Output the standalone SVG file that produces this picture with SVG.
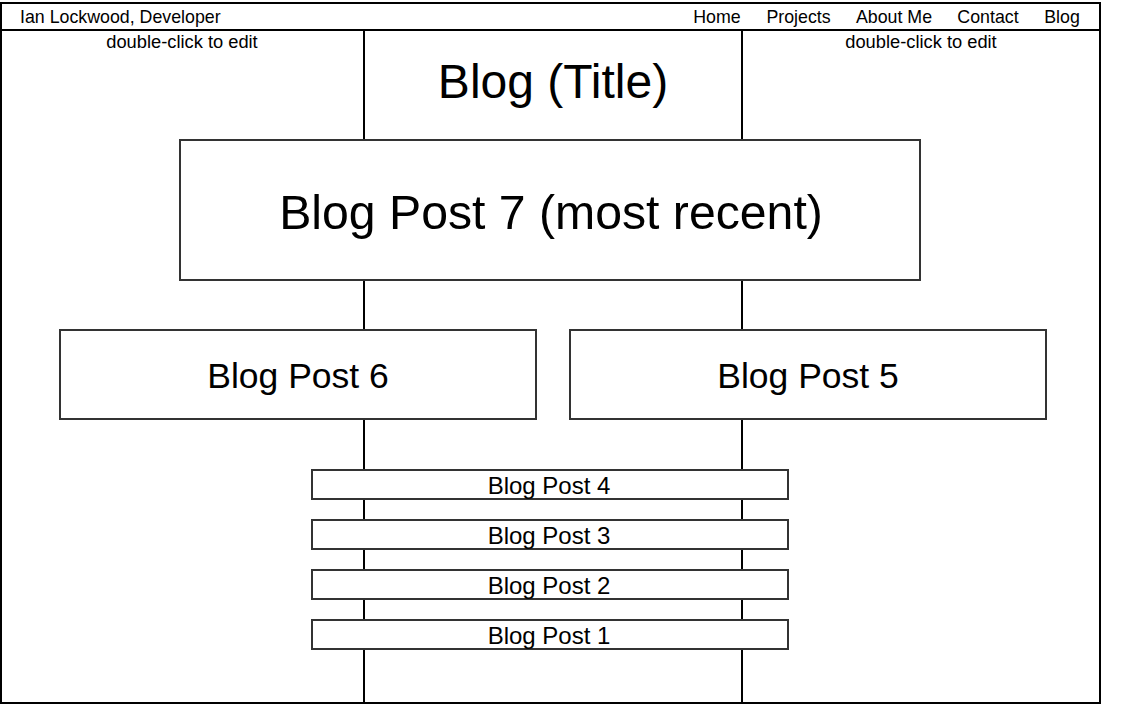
<svg xmlns="http://www.w3.org/2000/svg" width="1122" height="724" viewBox="0 0 1122 724">
<style>
.frame{fill:none;stroke:#000;stroke-width:2}
.box{fill:#fff;stroke:#333;stroke-width:2}
.line{stroke:#000;stroke-width:2;fill:none}
text{font-family:"Liberation Sans",Arial,sans-serif;fill:#000}
.sm{font-size:17.8px}
.c{text-anchor:middle}
</style>
<rect x="0" y="0" width="1122" height="724" fill="#fff"/>
<g id="connectors">
<line class="line" x1="364" y1="30" x2="364" y2="703"/>
<line class="line" x1="742" y1="30" x2="742" y2="703"/>
</g>
<g id="frame">
<rect class="frame" x="1" y="3" width="1099" height="700"/>
<line class="line" x1="1" y1="30" x2="1100" y2="30"/>
</g>
<g id="header">
<text class="sm" x="20" y="23">Ian Lockwood, Developer</text>
<text class="sm c" x="717" y="23">Home</text>
<text class="sm c" x="798.5" y="23">Projects</text>
<text class="sm c" x="894" y="23">About Me</text>
<text class="sm c" x="988" y="23">Contact</text>
<text class="sm c" x="1062" y="23">Blog</text>
</g>
<g id="edit-left"><text class="c" x="182" y="48" font-size="18.3">double-click to edit</text></g>
<g id="edit-right"><text class="c" x="921" y="48" font-size="18.3">double-click to edit</text></g>
<g id="title"><text class="c" x="553" y="98" font-size="48">Blog (Title)</text></g>
<g id="post7">
<rect class="box" x="180" y="140" width="740" height="140"/>
<text class="c" x="551" y="229" font-size="48.2">Blog Post 7 (most recent)</text>
</g>
<g id="post6">
<rect class="box" x="60" y="330" width="476" height="89"/>
<text class="c" x="298" y="388" font-size="35.5">Blog Post 6</text>
</g>
<g id="post5">
<rect class="box" x="570" y="330" width="476" height="89"/>
<text class="c" x="808" y="388" font-size="35.5">Blog Post 5</text>
</g>
<g id="post4">
<rect class="box" x="312" y="470" width="476" height="29"/>
<text class="c" x="549" y="494" font-size="24">Blog Post 4</text>
</g>
<g id="post3">
<rect class="box" x="312" y="520" width="476" height="29"/>
<text class="c" x="549" y="544" font-size="24">Blog Post 3</text>
</g>
<g id="post2">
<rect class="box" x="312" y="570" width="476" height="29"/>
<text class="c" x="549" y="594" font-size="24">Blog Post 2</text>
</g>
<g id="post1">
<rect class="box" x="312" y="620" width="476" height="29"/>
<text class="c" x="549" y="644" font-size="24">Blog Post 1</text>
</g>
</svg>
